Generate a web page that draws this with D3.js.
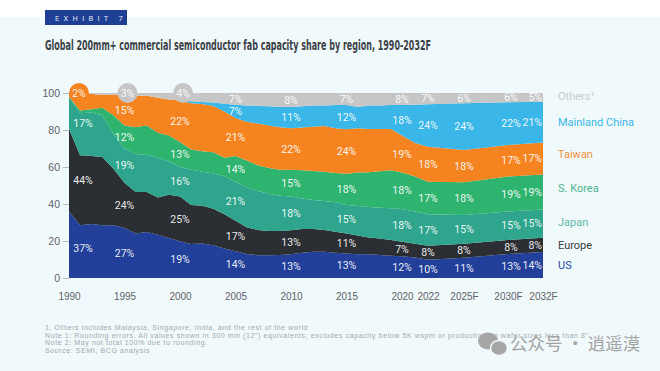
<!DOCTYPE html>
<html>
<head>
<meta charset="utf-8">
<script src="https://cdn.jsdelivr.net/npm/d3@7"></script>
<style>
  body { margin: 0; background: #fff; }
  svg { display: block; font-family: Roboto, "Noto Sans", sans-serif; }
</style>
</head>
<body>
<svg id="chart" width="660" height="371"></svg>
<script>
// Share of 200mm+ fab capacity (%)
var years = [1990, 1991, 1992, 1993, 1994, 1995, 1996, 1997, 1998, 1999,
  2000, 2001, 2002, 2003, 2004, 2005, 2006, 2007, 2008, 2009,
  2010, 2011, 2012, 2013, 2014, 2015, 2016, 2017, 2018, 2019,
  2020, 2021, 2022, 2025, 2030, 2032];

var us = [36, 28.5, 29.2, 28.5, 28.5, 27, 24, 24.8, 23.4, 21.6,
  19.8, 18.4, 18.7, 17.7, 15.9, 14.4, 13, 12.3, 12.3, 12.4,
  12.8, 13.6, 14.2, 14.2, 13.6, 13.3, 12.8, 12.8, 12.4, 12,
  11.7, 11.1, 9.9, 11, 13, 14];
var europe = [44.5, 37.8, 36.8, 36.9, 30.5, 24.5, 22.5, 21.7, 20.1, 23.4,
  24.2, 21.1, 20.3, 19.8, 18.6, 16.6, 14.5, 13.7, 13.1, 13,
  13, 12.9, 12.3, 11.8, 11.4, 10.8, 10.2, 9.1, 8.9, 8.5,
  7.9, 7.4, 7.6, 7.5, 7.5, 7.8];
var japan = [17.5, 22.7, 23.5, 22.6, 19, 18.5, 20.5, 20, 21.5, 18,
  16, 19, 18.5, 19, 20.5, 21, 21.5, 21, 20.1, 19.1,
  18.2, 16.5, 15.7, 15.6, 15.9, 15.4, 15.9, 16.5, 16.7, 17.2,
  17.7, 17.4, 16.9, 15.5, 15.5, 15.2];
var korea = [0, 1.6, 1.7, 4, 10, 12.5, 14.5, 16, 13.5, 14,
  13.5, 11, 11, 11.5, 10, 14, 14.5, 14, 14, 14,
  14.5, 15.2, 15.6, 15.9, 15.9, 16.9, 18.1, 18.7, 19.7, 20.5,
  19.7, 18.9, 17.6, 17.7, 18.8, 19];
var taiwan = [2, 9.4, 8.3, 7, 11, 16, 17, 16, 19, 19.5,
  22.5, 25, 25.5, 25, 25, 20.5, 21, 22.5, 23, 23,
  22.5, 23.2, 24, 24.7, 24.1, 24, 23.9, 23.4, 22.8, 22.3,
  20, 18.2, 19, 17.5, 17.1, 17.3];
var china = [0, 0, 0, 0, 0, 0, 0, 0, 0, 0,
  0, 1, 1.1, 1.8, 4.2, 7.2, 8.8, 9.5, 10.3, 10.9,
  11.4, 11.4, 11.4, 11, 12.6, 13.1, 11.5, 12.7, 12.8, 13,
  16.5, 20.7, 22.9, 25.2, 23.1, 22];
var others = [0, 0, 0.5, 1, 1, 1.5, 1.5, 1.5, 2.5, 3.5,
  4, 4.5, 4.9, 5.2, 5.8, 6.3, 6.7, 7, 7.2, 7.6,
  7.6, 7.2, 6.8, 6.8, 6.5, 6.5, 7.6, 6.8, 6.7, 6.5,
  6.5, 6.3, 6.1, 5.6, 5, 4.7];

// printed percentage labels
var labelYears = [1990, 1995, 2000, 2005, 2010, 2015, 2020, 2022, 2025, 2030, 2032];
var usLabels = [37, 27, 19, 14, 13, 13, 12, 10, 11, 13, 14];
var europeLabels = [44, 24, 25, 17, 13, 11, 7, 8, 8, 8, 8];
var japanLabels = [17, 19, 16, 21, 18, 15, 18, 17, 15, 15, 15];
var koreaLabels = [null, 12, 13, 14, 15, 18, 18, 17, 18, 19, 19];
var taiwanLabels = [2, 15, 22, 21, 22, 24, 19, 18, 18, 17, 17];
var chinaLabels = [null, null, null, 7, 11, 12, 18, 24, 24, 22, 21];
var othersLabels = [null, 3, 4, 7, 8, 7, 8, 7, 6, 6, 5];

var tickYears = [1990, 1995, 2000, 2005, 2010, 2015, 2020, 2022, 2025, 2030, 2032];
var forecastFrom = 2025;

var keys = ["US", "Europe", "Japan", "S. Korea", "Taiwan", "Mainland China", "Others"];
var legendNames = ["US", "Europe", "Japan", "S. Korea", "Taiwan", "Mainland China", "Others\u00b9"];
var seriesValues = [us, europe, japan, korea, taiwan, china, others];
var seriesLabels = [usLabels, europeLabels, japanLabels, koreaLabels, taiwanLabels, chinaLabels, othersLabels];
var colors = ["#22409a", "#2b2e32", "#2ea58c", "#2fb470", "#f5831f", "#3ab7e8", "#c6c6c6"];
var legendColors = ["#2a4aa2", "#3a3d41", "#5dbca6", "#4db690", "#f0913f", "#3ab5e6", "#c9cbcc"];
var legendNudge = [0, 0, -1, -4, -4, 0, -1];

var notes = [
  "1. Others includes Malaysia, Singapore, India, and the rest of the world",
  "Note 1: Rounding errors. All values shown in 300 mm (12\") equivalents; excludes capacity below 5K wspm or production on wafer sizes less than 8\"",
  "Note 2: May not total 100% due to rounding.",
  "Source: SEMI; BCG analysis"
];

var rows = years.map(function (yr, i) {
  var r = { year: yr };
  keys.forEach(function (k, j) { r[k] = seriesValues[j][i]; });
  return r;
});

var svg = d3.select("#chart");

// background
svg.append("rect").attr("width", 660).attr("height", 371).attr("fill", "#fff");
svg.append("rect").attr("y", 17).attr("width", 660).attr("height", 354).attr("fill", "#f0f9fc");

// exhibit tag
svg.append("rect").attr("x", 45).attr("y", 10).attr("width", 82).attr("height", 15).attr("fill", "#1f3f94");
svg.append("text")
  .attr("x", 55).attr("y", 20.5)
  .attr("fill", "#dfe6f5")
  .style("font-size", "7.5px")
  .style("letter-spacing", "4.3px")
  .text("EXHIBIT 7");

// title
svg.append("text")
  .attr("x", 45).attr("y", 50)
  .attr("fill", "#3b4147")
  .style("font-family", "'Liberation Sans Narrow', 'DejaVu Sans Condensed', sans-serif")
  .style("font-weight", "bold")
  .style("font-size", "14px")
  .attr("textLength", 386)
  .attr("lengthAdjust", "spacingAndGlyphs")
  .text("Global 200mm+ commercial semiconductor fab capacity share by region, 1990-2032F");

// scales
var x = d3.scaleLinear()
  .domain([1990, 2020, 2022, 2025, 2030, 2032])
  .range([69, 402, 428, 464, 508, 543]);
var y = d3.scaleLinear().domain([0, 100]).range([278, 93]);

var stacked = d3.stack().keys(keys)(rows);

var area = d3.area()
  .x(function (d) { return x(d.data.year); })
  .y0(function (d) { return y(d[0]); })
  .y1(function (d) { return y(d[1]); });

svg.append("g")
  .selectAll("path")
  .data(stacked)
  .join("path")
  .attr("fill", function (d, i) { return colors[i]; })
  .attr("d", area);

// axes
var yAxis = d3.axisLeft(y).tickValues([0, 20, 40, 60, 80, 100]).tickSize(6).tickPadding(3);
var gy = svg.append("g").attr("transform", "translate(69,0)").call(yAxis);
gy.select(".domain").remove();
gy.selectAll("line").attr("stroke", "#b5b9bc");
gy.selectAll("text").attr("fill", "#5f6368").style("font-size", "10.5px");

var xAxis = d3.axisBottom(x)
  .tickValues(tickYears)
  .tickSize(0)
  .tickPadding(15)
  .tickFormat(function (d) { return d >= forecastFrom ? d + "F" : d; });
var gx = svg.append("g").attr("transform", "translate(0,278)").call(xAxis);
gx.select(".domain").remove();
gx.selectAll("text").attr("fill", "#5f6368").style("font-size", "10px");

// percentage labels
var labelData = [];
stacked.forEach(function (s, k) {
  labelYears.forEach(function (yr, j) {
    var v = seriesLabels[k][j];
    if (v == null) return;
    var i = years.indexOf(yr);
    var mid = (s[i][0] + s[i][1]) / 2;
    if (i === 0) mid = (mid + (s[1][0] + s[1][1]) / 2) / 2;
    var dx = 0;
    if (yr === 1990) dx = 14;
    if (yr === 2030) dx = 3;
    var circled = (k === 4 && yr === 1990) || (k === 6 && yr <= 2000);
    labelData.push({ key: k, year: yr, v: v, mid: circled ? 100 : mid, dx: dx, circled: circled });
  });
});

var lab = svg.append("g").selectAll("g").data(labelData).join("g")
  .attr("transform", function (d) {
    var cx = d.circled ? x(d.year) + (d.year === 1990 ? 10 : 3) : x(d.year) + d.dx;
    return "translate(" + cx + "," + y(d.mid) + ")";
  });

lab.filter(function (d) { return d.circled; })
  .append("circle")
  .attr("r", 10)
  .attr("fill", function (d) { return colors[d.key]; });

lab.append("text")
  .attr("text-anchor", function (d) { return d.year === 2032 ? "end" : "middle"; })
  .attr("dx", function (d) { return d.year === 2032 ? -1 : 0; })
  .attr("dy", "0.35em")
  .attr("fill", "#fff")
  .attr("fill-opacity", 0.92)
  .style("font-size", "10.5px")
  .text(function (d) { return d.v + "%"; });

// legend next to the last column
var last = years.length - 1;
svg.append("g").selectAll("text")
  .data(stacked)
  .join("text")
  .attr("x", 558)
  .attr("y", function (s, i) { return y((s[last][0] + s[last][1]) / 2) + legendNudge[i]; })
  .attr("dy", "0.35em")
  .attr("fill", function (s, i) { return legendColors[i]; })
  .style("font-size", "11px")
  .text(function (s, i) { return legendNames[i]; });

// footnotes
svg.append("g").selectAll("text")
  .data(notes)
  .join("text")
  .attr("x", 45)
  .attr("y", function (d, i) { return 330 + i * 7.6; })
  .attr("fill", "#a3a9ae")
  .style("font-family", "'Liberation Sans', Arial, sans-serif")
  .style("font-size", "7px")
  .style("letter-spacing", "0.6px")
  .text(function (d) { return d; });

// watermark
var wm = svg.append("g").attr("fill", "#a6a6a6");
wm.append("ellipse").attr("cx", 488).attr("cy", 341).attr("rx", 10).attr("ry", 8.5);
wm.append("ellipse").attr("cx", 499).attr("cy", 348).attr("rx", 8.5).attr("ry", 7.5).attr("stroke", "#f0f9fc").attr("stroke-width", 1.5);
wm.append("text")
  .attr("x", 510).attr("y", 350)
  .style("font-family", "'Noto Sans CJK SC', sans-serif")
  .style("font-size", "17.5px")
  .attr("fill", "#a3a3a3")
  .text("公众号 · 逍遥漠");
</script>
</body>
</html>
